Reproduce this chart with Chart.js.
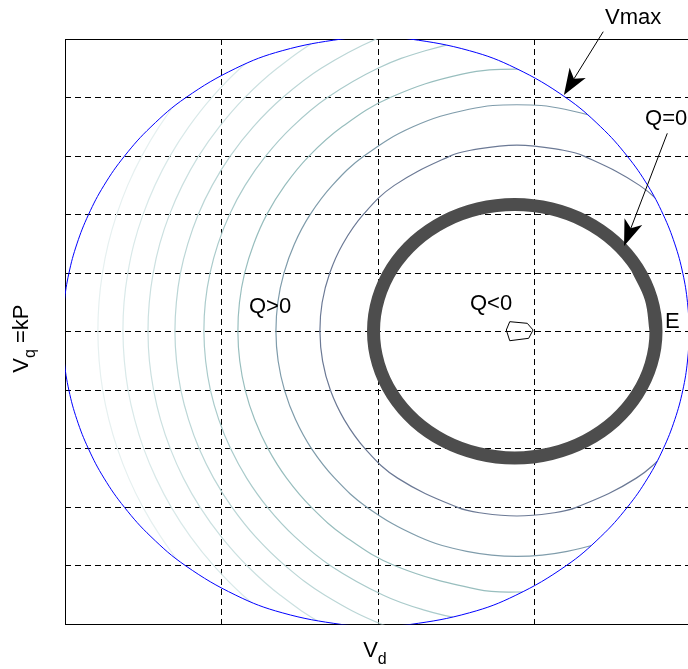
<!DOCTYPE html>
<html>
<head>
<meta charset="utf-8">
<script src="https://cdn.jsdelivr.net/npm/chart.js@4/dist/chart.umd.min.js"></script>
<style>
  html, body { margin: 0; padding: 0; background: #fff; overflow: hidden; }
  #wrap { width: 700px; height: 669px; }
</style>
</head>
<body>
<div id="wrap"><canvas id="c" width="700" height="669"></canvas></div>
<script>
// Vd on the horizontal axis, Vq = kP on the vertical axis.

// Vmax boundary circle
const vmaxX = [1.985, 1.767, 1.387, 1.091, 0.772, 0.549, 0.380, 0.249, 0.150, 0.076, 0.025, -0.005, -0.015, -0.005, 0.025, 0.076, 0.150, 0.249, 0.380, 0.549, 0.772, 1.091, 1.387, 1.767, 1.985, 2.203, 2.583, 2.879, 3.198, 3.421, 3.590, 3.721, 3.820, 3.894, 3.945, 3.975, 3.985, 3.975, 3.945, 3.894, 3.820, 3.721, 3.590, 3.421, 3.198, 2.879, 2.583, 2.203, 1.985];
const vmaxY = [10.03, 10, 9.8, 9.5, 9, 8.5, 8, 7.5, 7, 6.5, 6, 5.5, 5, 4.5, 4, 3.5, 3, 2.5, 2, 1.5, 1, 0.5, 0.2, 0, -0.03, 0, 0.2, 0.5, 1, 1.5, 2, 2.5, 3, 3.5, 4, 4.5, 5, 5.5, 6, 6.5, 7, 7.5, 8, 8.5, 9, 9.5, 9.8, 10, 10.03];

// Q = 0 contour (closed; the last points repeat the first ones)
const q0X = [3.774, 3.743, 3.653, 3.510, 3.323, 3.105, 2.872, 2.639, 2.421, 2.234, 2.091, 2.001, 1.970, 2.001, 2.091, 2.234, 2.421, 2.639, 2.872, 3.105, 3.323, 3.510, 3.653, 3.743, 3.774, 3.743, 3.653];
const q0Y = [5.009, 5.569, 6.092, 6.540, 6.884, 7.100, 7.174, 7.100, 6.884, 6.540, 6.092, 5.569, 5.009, 4.449, 3.927, 3.478, 3.134, 2.918, 2.844, 2.918, 3.134, 3.478, 3.927, 4.449, 5.009, 5.569, 6.092];

// innermost (minimum) Q contour
const qMinX = [2.818, 2.840, 2.952, 2.989, 2.961, 2.840, 2.818];
const qMinY = [5.030, 5.172, 5.144, 5.030, 4.888, 4.847, 5.030];

// Q > 0 contours, from the Q = 0 curve outwards
const c1X = [4.083, 3.999, 3.868, 3.669, 3.314, 3.182, 2.886, 2.590, 2.458, 2.103, 1.904, 1.774, 1.690, 1.642, 1.628, 1.645, 1.695, 1.783, 1.917, 2.124, 2.507, 2.670, 2.886, 3.102, 3.265, 3.648, 3.855, 3.990, 4.077];
const c1Y = [6, 6.5, 7, 7.5, 8, 8.1, 8.189, 8.1, 8, 7.5, 7, 6.5, 6, 5.5, 5, 4.5, 4, 3.5, 3, 2.5, 2, 1.9, 1.853, 1.9, 2, 2.5, 3, 3.5, 4];

const c2X = [4.065, 3.863, 3.550, 3.192, 2.886, 2.580, 2.222, 1.909, 1.707, 1.565, 1.465, 1.398, 1.359, 1.347, 1.361, 1.402, 1.472, 1.575, 1.722, 1.930, 2.259, 2.565, 2.886, 3.207, 3.513, 3.842, 4.050];
const c2Y = [7.5, 8, 8.5, 8.8, 8.877, 8.8, 8.5, 8, 7.5, 7, 6.5, 6, 5.5, 5, 4.5, 4, 3.5, 3, 2.5, 2, 1.5, 1.25, 1.165, 1.25, 1.5, 2, 2.5];

const c3X = [3.695, 3.236, 2.886, 2.536, 2.077, 1.769, 1.558, 1.404, 1.288, 1.205, 1.147, 1.114, 1.104, 1.116, 1.151, 1.211, 1.297, 1.415, 1.574, 1.790, 2.111, 2.634, 2.886, 3.138, 3.661];
const c3Y = [9, 9.4, 9.487, 9.4, 9, 8.5, 8, 7.5, 7, 6.5, 6, 5.5, 5, 4.5, 4, 3.5, 3, 2.5, 2, 1.5, 1, 0.6, 0.555, 0.6, 1];

const c4X = [3.219, 2.886, 2.553, 2.300, 1.998, 1.676, 1.451, 1.281, 1.150, 1.050, 0.977, 0.926, 0.896, 0.887, 0.898, 0.929, 0.982, 1.058, 1.160, 1.293, 1.467, 1.698, 2.033, 2.289, 2.534, 2.886, 3.238];
const c4Y = [9.95, 10.02, 9.95, 9.8, 9.5, 9, 8.5, 8, 7.5, 7, 6.5, 6, 5.5, 5, 4.5, 4, 3.5, 3, 2.5, 2, 1.5, 1, 0.5, 0.25, 0.1, 0.022, 0.1];

const c5X = [2.325, 1.988, 1.636, 1.390, 1.202, 1.055, 0.940, 0.850, 0.784, 0.737, 0.711, 0.702, 0.712, 0.740, 0.789, 0.857, 0.949, 1.067, 1.216, 1.408, 1.660, 2.026, 2.393];
const c5Y = [10.3, 10, 9.5, 9, 8.5, 8, 7.5, 7, 6.5, 6, 5.5, 5, 4.5, 4, 3.5, 3, 2.5, 2, 1.5, 1, 0.5, 0, -0.3];

const outerY = [10.5, 10, 9.5, 9, 8.5, 8, 7.5, 7, 6.5, 6, 5.5, 5, 4.5, 4, 3.5, 3, 2.5, 2, 1.5, 1, 0.5, 0, -0.5];
const c6X = [2.019, 1.626, 1.355, 1.148, 0.985, 0.853, 0.749, 0.667, 0.605, 0.563, 0.538, 0.530, 0.539, 0.566, 0.610, 0.673, 0.756, 0.863, 0.997, 1.164, 1.375, 1.653, 2.062];
const c7X = [1.649, 1.348, 1.119, 0.937, 0.790, 0.670, 0.574, 0.498, 0.440, 0.401, 0.377, 0.370, 0.379, 0.403, 0.445, 0.503, 0.581, 0.679, 0.801, 0.951, 1.136, 1.370, 1.679];
const c8X = [1.349, 1.098, 0.898, 0.734, 0.600, 0.490, 0.400, 0.330, 0.276, 0.239, 0.217, 0.210, 0.218, 0.241, 0.280, 0.335, 0.407, 0.498, 0.611, 0.747, 0.913, 1.117, 1.374];

// ---- styling ----
const contourColors = ['#6b7995', '#7f9cab', '#98bebe', '#aacbcb', '#bbd6d6', '#cbe0e0', '#d9e9e9', '#e6f0f0'];
const FONT = '"Liberation Sans", Arial, Helvetica, sans-serif';

// text and arrow annotations, placed in axis units
const notes = {
  texts: [
    { text: 'Vmax', x: 3.448, y: 10.251 },
    { text: 'Q=0',  x: 3.704, y: 8.523 },
    { text: 'Q>0',  x: 1.175, y: 5.325 },
    { text: 'Q<0',  x: 2.586, y: 5.363 },
    { text: 'E',    x: 3.831, y: 5.064 }
  ],
  arrows: [
    { from: [3.437, 10.125], to: [3.186, 9.044] },
    { from: [3.846, 8.389],  to: [3.570, 6.465] }
  ]
};

const pts = (xs, ys) => xs.map((x, i) => ({ x, y: ys[i] }));

const contourXs = [c1X, c2X, c3X, c4X, c5X, c6X, c7X, c8X];
const contourYs = [c1Y, c2Y, c3Y, c4Y, c5Y, outerY, outerY, outerY];

const datasets = [
  { label: 'Vmax', data: pts(vmaxX, vmaxY), borderColor: '#0000ff', borderWidth: 1, tension: 0.4, order: 0 },
  { label: 'Q=0', data: pts(q0X, q0Y), borderColor: '#4d4d4d', borderWidth: 13, tension: 0.4, order: 1 },
  { label: 'Qmin', data: pts(qMinX, qMinY), borderColor: '#000000', borderWidth: 1, tension: 0, order: 2 }
].concat(contourXs.map((xs, i) => ({
  label: 'Q' + (i + 1),
  data: pts(xs, contourYs[i]),
  borderColor: contourColors[i],
  borderWidth: 1.2,
  tension: 0.4,
  order: 3 + i,
  insideVmax: true
})));
datasets.forEach(d => { d.showLine = true; d.fill = false; });

// Contours only exist inside the Vmax circle: clip them to its path.
const vmaxClip = {
  id: 'vmaxClip',
  beforeDatasetDraw(chart, args) {
    const ds = chart.data.datasets[args.index];
    if (!ds.insideVmax) return;
    const ctx = chart.ctx;
    const line = chart.getDatasetMeta(0).dataset;
    ctx.save();
    ctx.beginPath();
    if (line && typeof line.path === 'function') {
      line.updateControlPoints(chart.chartArea, 'x');
      line.path(ctx);
    } else {
      const xs = chart.scales.x, ys = chart.scales.y;
      vmaxX.forEach((v, i) => {
        const px = xs.getPixelForValue(v), py = ys.getPixelForValue(vmaxY[i]);
        if (i === 0) ctx.moveTo(px, py); else ctx.lineTo(px, py);
      });
    }
    ctx.closePath();
    ctx.clip();
  },
  afterDatasetDraw(chart, args) {
    if (chart.data.datasets[args.index].insideVmax) chart.ctx.restore();
  }
};

// Axes box, drawn above the grid and below the curves.
const frame = {
  id: 'frame',
  beforeDatasetsDraw(chart) {
    const { ctx, chartArea: a } = chart;
    const l = Math.floor(a.left) + 0.5, t = Math.floor(a.top) + 0.5;
    const r = Math.floor(a.right) + 0.5, b = Math.floor(a.bottom) + 0.5;
    ctx.save();
    ctx.setLineDash([]);
    ctx.strokeStyle = '#000';
    ctx.lineWidth = 1;
    ctx.beginPath();
    ctx.moveTo(r, t); ctx.lineTo(l, t); ctx.lineTo(l, b); ctx.lineTo(r, b); ctx.lineTo(r, t);
    ctx.stroke();
    ctx.restore();
  }
};

function labelWithSub(ctx, main, sub, rest, x, y) {
  ctx.font = '22px ' + FONT;
  ctx.fillText(main, x, y);
  let w = ctx.measureText(main).width;
  ctx.font = '16px ' + FONT;
  ctx.fillText(sub, x + w, y + 7);
  w += ctx.measureText(sub).width;
  if (rest) {
    ctx.font = '22px ' + FONT;
    ctx.fillText(rest, x + w, y);
  }
}

function arrow(ctx, x0, y0, x1, y1) {
  const dx = x1 - x0, dy = y1 - y0;
  const len = Math.hypot(dx, dy);
  const ux = dx / len, uy = dy / len;
  const nx = -uy, ny = ux;
  const L = 26, W = 9.5, N = 19;
  ctx.beginPath();
  ctx.moveTo(x0, y0);
  ctx.lineTo(x1 - ux * N, y1 - uy * N);
  ctx.stroke();
  ctx.beginPath();
  ctx.moveTo(x1, y1);
  ctx.lineTo(x1 - ux * L + nx * W, y1 - uy * L + ny * W);
  ctx.lineTo(x1 - ux * N, y1 - uy * N);
  ctx.lineTo(x1 - ux * L - nx * W, y1 - uy * L - ny * W);
  ctx.closePath();
  ctx.fill();
}

const annotations = {
  id: 'annotations',
  afterDraw(chart) {
    const { ctx, chartArea: a } = chart;
    const xs = chart.scales.x, ys = chart.scales.y;
    ctx.save();
    ctx.fillStyle = '#000';
    ctx.strokeStyle = '#000';
    ctx.lineWidth = 1;
    ctx.textAlign = 'left';
    ctx.textBaseline = 'alphabetic';

    ctx.font = '22px ' + FONT;
    notes.texts.forEach(t => {
      ctx.fillText(t.text, xs.getPixelForValue(t.x), ys.getPixelForValue(t.y));
    });

    notes.arrows.forEach(ar => {
      arrow(ctx,
        xs.getPixelForValue(ar.from[0]), ys.getPixelForValue(ar.from[1]),
        xs.getPixelForValue(ar.to[0]), ys.getPixelForValue(ar.to[1]));
    });

    // axis titles
    labelWithSub(ctx, 'V', 'd', '', xs.getPixelForValue(2) - 15, a.bottom + 32.5);

    ctx.save();
    ctx.translate(a.left - 36.7, (a.top + a.bottom) / 2 + 41);
    ctx.rotate(-Math.PI / 2);
    labelWithSub(ctx, 'V', 'q', ' =kP', 0, 0);
    ctx.restore();

    ctx.restore();
  }
};

const axisCommon = {
  type: 'linear',
  ticks: { display: false, stepSize: 1 },
  grid: { color: '#000', lineWidth: 1, drawTicks: false },
  border: { display: false, dash: [6, 4] }
};

new Chart(document.getElementById('c'), {
  type: 'scatter',
  data: { datasets },
  options: {
    responsive: false,
    devicePixelRatio: 1,
    animation: false,
    events: [],
    layout: { padding: { left: 65, right: 8.6, top: 39, bottom: 44.5 } },
    elements: {
      point: { radius: 0, hoverRadius: 0 },
      line: { capBezierPoints: false, borderJoinStyle: 'round' }
    },
    plugins: { legend: { display: false }, tooltip: { enabled: false }, title: { display: false } },
    scales: {
      x: Object.assign({}, axisCommon, { min: 0, max: 4 }),
      y: Object.assign({}, axisCommon, { min: 0, max: 10 })
    }
  },
  plugins: [vmaxClip, frame, annotations]
});
</script>
</body>
</html>
